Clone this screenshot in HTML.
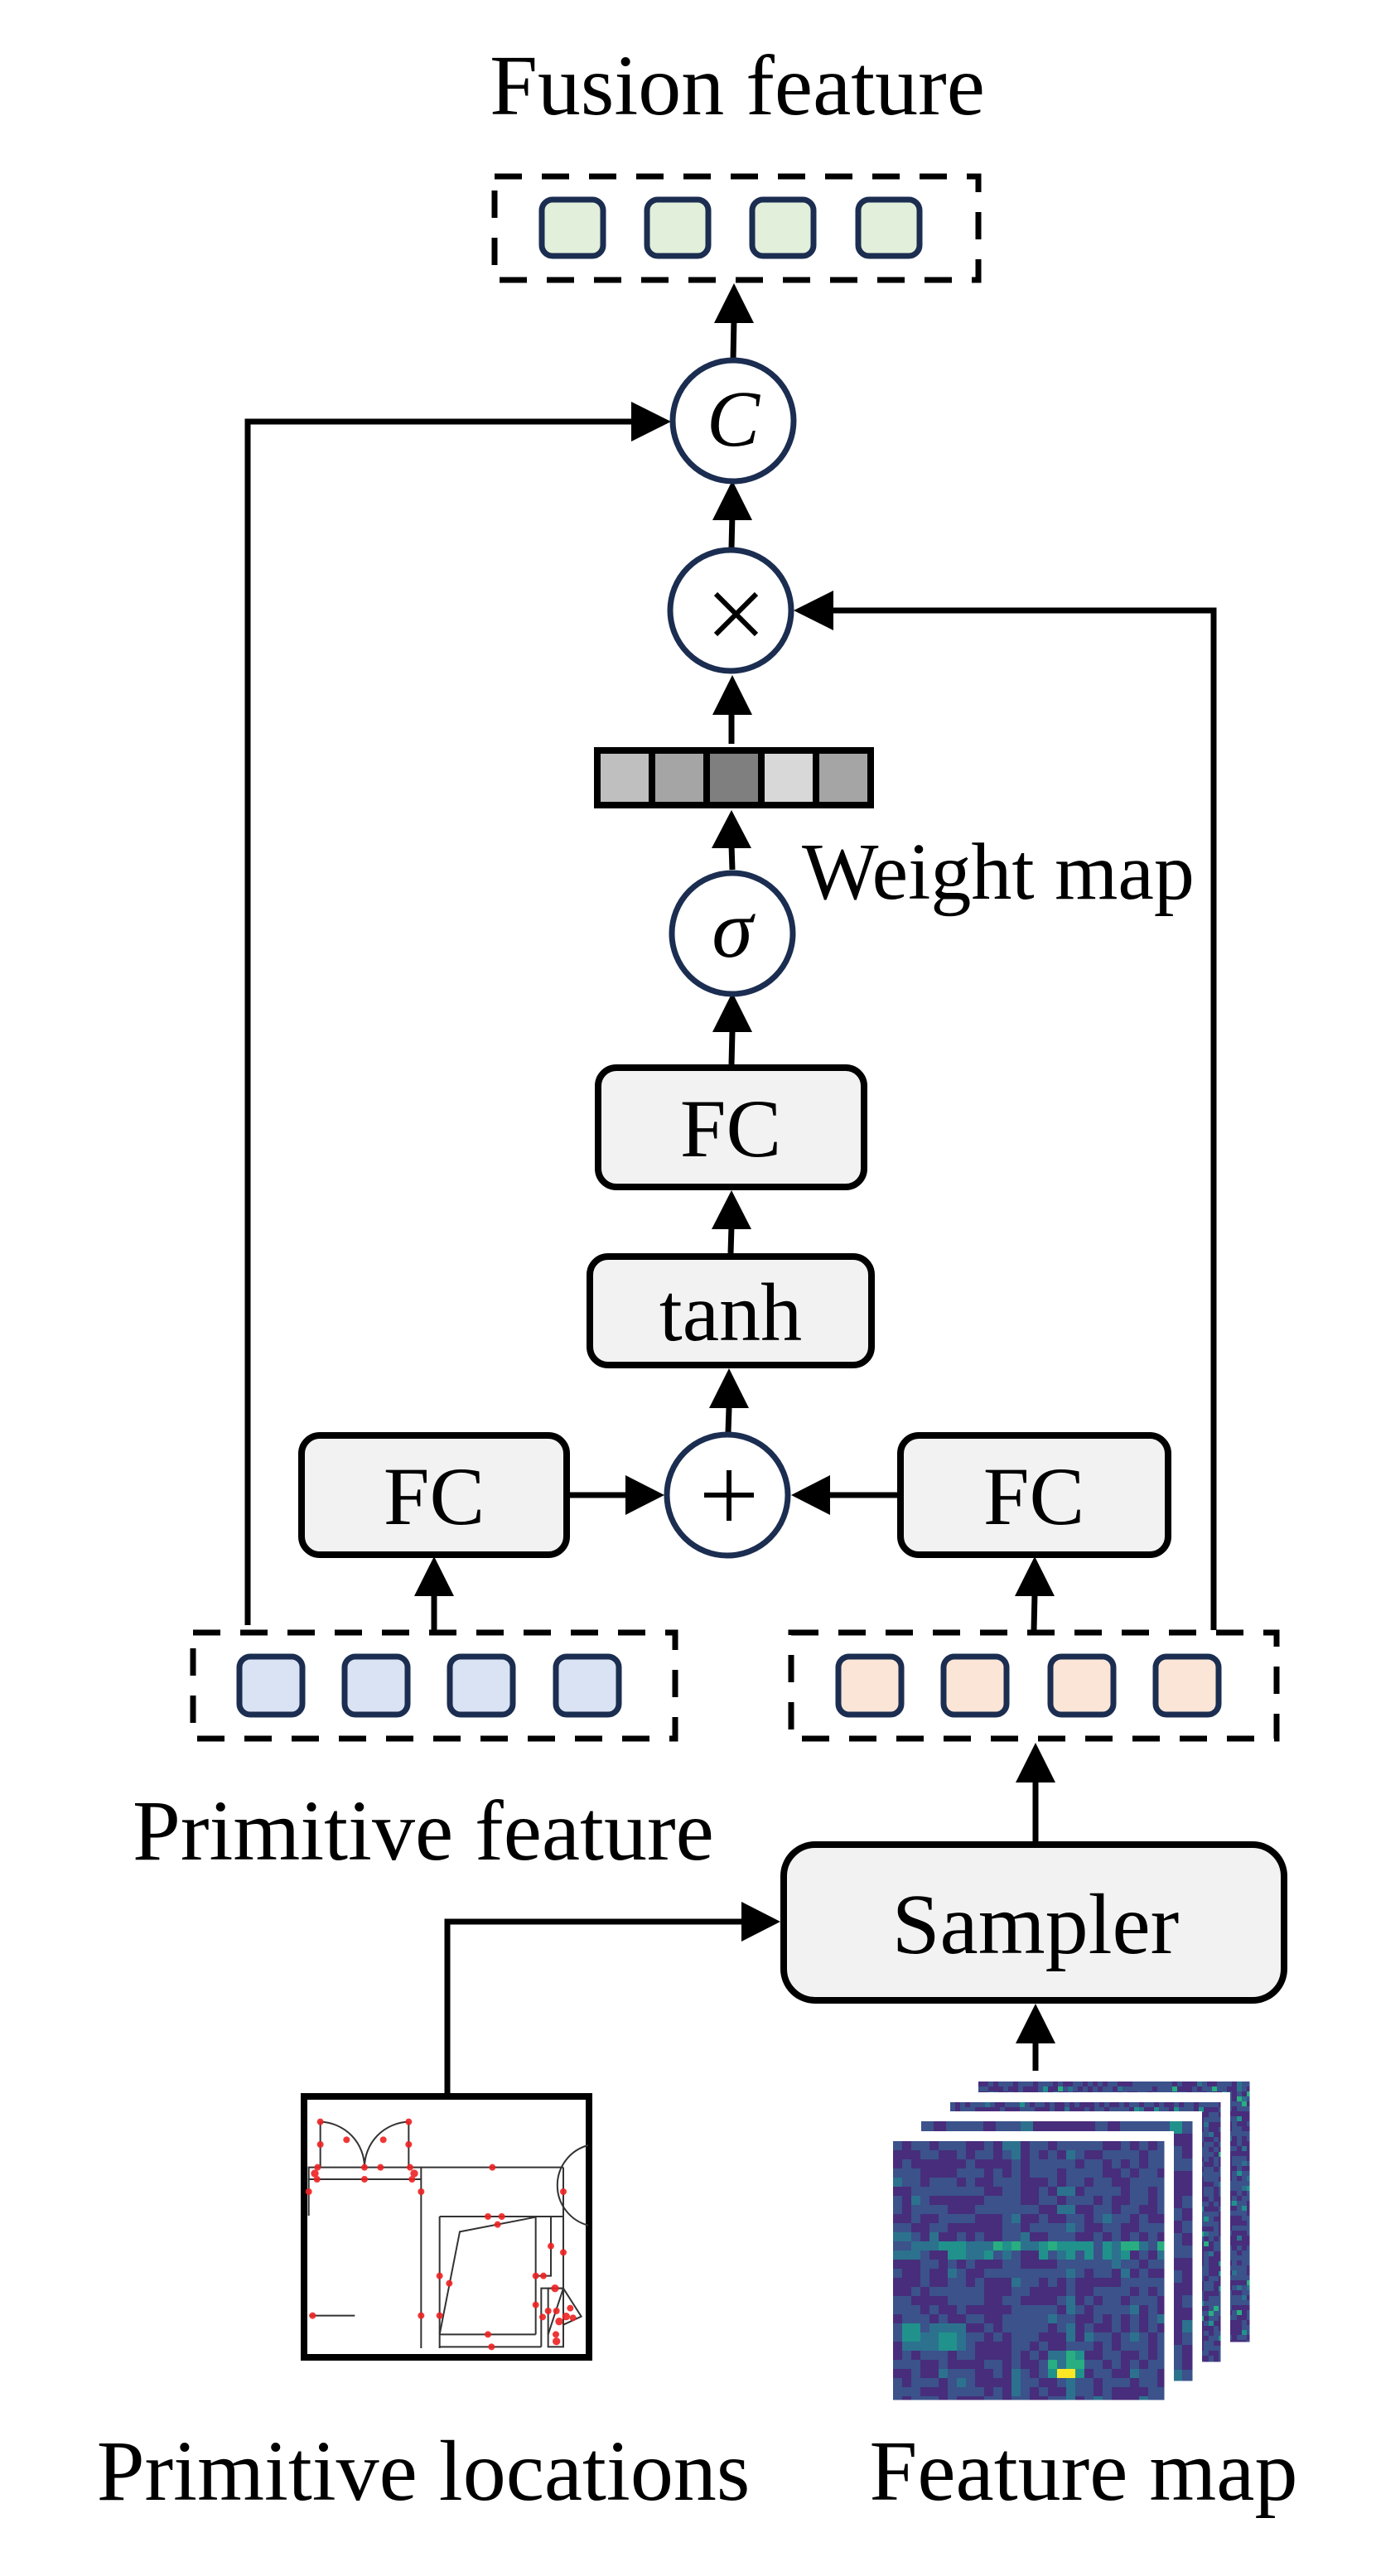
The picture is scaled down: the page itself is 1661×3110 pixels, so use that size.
<!DOCTYPE html>
<html><head><meta charset="utf-8"><style>
html,body{margin:0;padding:0;background:#fff;}
svg{display:block;}
text{font-family:"Liberation Serif",serif;fill:#000;}
</style></head><body>
<svg id="s" width="1661" height="3110" viewBox="0 0 1661 3110" xmlns="http://www.w3.org/2000/svg">
<rect width="1661" height="3110" fill="#fff"/>

<text x="890" y="138" font-size="104" text-anchor="middle">Fusion feature</text>
<text x="968" y="1085" font-size="98">Weight map</text>
<text x="160" y="2245" font-size="104">Primitive feature</text>
<text x="511" y="3018" font-size="104" text-anchor="middle">Primitive locations</text>
<text x="1308" y="3018" font-size="104" text-anchor="middle">Feature map</text>

<rect x="597" y="213" width="584" height="125" fill="none" stroke="#000" stroke-width="7" stroke-dasharray="33,24"/>
<g fill="#e2efda" stroke="#1b2d50" stroke-width="7">
<rect x="654" y="241" width="74" height="68" rx="13"/>
<rect x="781" y="241" width="74" height="68" rx="13"/>
<rect x="908" y="241" width="74" height="68" rx="13"/>
<rect x="1036" y="241" width="74" height="68" rx="13"/>
</g>

<g stroke="#000" stroke-width="7" fill="none">
<line x1="885" y1="434" x2="886" y2="385"/>
<polyline points="299,1962 299,509 770,509"/>
<line x1="883" y1="662" x2="884" y2="620"/>
<polyline points="1465,1968 1465,737 1002,737"/>
<line x1="883" y1="898" x2="883" y2="860"/>
<line x1="884" y1="1050" x2="883" y2="1020"/>
<line x1="883" y1="1285" x2="884" y2="1245"/>
<line x1="882" y1="1513" x2="883" y2="1480"/>
<line x1="879" y1="1729" x2="880" y2="1700"/>
<line x1="686" y1="1805" x2="760" y2="1805"/>
<line x1="1083" y1="1805" x2="1000" y2="1805"/>
<line x1="524" y1="1968" x2="524" y2="1925"/>
<line x1="1248" y1="1968" x2="1249" y2="1925"/>
<line x1="1250" y1="2223" x2="1250" y2="2150"/>
<line x1="1250" y1="2500" x2="1250" y2="2465"/>
<polyline points="540,2528 540,2320 900,2320"/>
</g>
<g fill="#000">
<polygon points="886,342 862,390 910,390"/>
<polygon points="810,509 762,485 762,533"/>
<polygon points="884,580 860,628 908,628"/>
<polygon points="958,737 1006,713 1006,761"/>
<polygon points="884,815 860,863 908,863"/>
<polygon points="883,978 859,1024 907,1024"/>
<polygon points="884,1198 860,1246 908,1246"/>
<polygon points="883,1437 859,1484 907,1484"/>
<polygon points="880,1652 856,1700 904,1700"/>
<polygon points="802,1805 755,1781 755,1829"/>
<polygon points="955,1805 1002,1781 1002,1829"/>
<polygon points="524,1879 500,1927 548,1927"/>
<polygon points="1249,1879 1225,1927 1273,1927"/>
<polygon points="1250,2104 1226,2152 1274,2152"/>
<polygon points="1250,2419 1226,2467 1274,2467"/>
<polygon points="942,2320 895,2296 895,2344"/>
</g>

<g fill="#fff" stroke="#1b2d50" stroke-width="7">
<circle cx="885" cy="508" r="73"/>
<circle cx="882" cy="737" r="73"/>
<circle cx="884" cy="1127" r="73"/>
<circle cx="878" cy="1805" r="73"/>
</g>
<text x="885" y="538" font-size="96" font-style="italic" text-anchor="middle">C</text>
<g stroke="#000" stroke-width="6"><line x1="864" y1="717" x2="913" y2="766"/><line x1="913" y1="717" x2="864" y2="766"/>
<line x1="850" y1="1805" x2="910" y2="1805"/><line x1="880" y1="1775" x2="880" y2="1836"/></g>
<text x="884" y="1155" font-size="100" font-style="italic" text-anchor="middle">σ</text>

<rect x="717" y="902" width="338" height="74" fill="#000"/>
<rect x="725" y="910" width="58" height="58" fill="#bfbfbf"/>
<rect x="791" y="910" width="58" height="58" fill="#a5a5a5"/>
<rect x="857" y="910" width="58" height="58" fill="#7f7f7f"/>
<rect x="923" y="910" width="58" height="58" fill="#d8d8d8"/>
<rect x="989" y="910" width="58" height="58" fill="#a5a5a5"/>

<g fill="#f2f2f2" stroke="#000" stroke-width="8">
<rect x="722" y="1289" width="321" height="144" rx="22"/>
<rect x="712" y="1517" width="340" height="131" rx="22"/>
<rect x="364" y="1733" width="320" height="144" rx="22"/>
<rect x="1087" y="1733" width="323" height="144" rx="22"/>
<rect x="946" y="2227" width="604" height="188" rx="38"/>
</g>
<text x="882" y="1396" font-size="100" text-anchor="middle">FC</text>
<text x="882" y="1618" font-size="100" text-anchor="middle">tanh</text>
<text x="524" y="1840" font-size="100" text-anchor="middle">FC</text>
<text x="1248" y="1840" font-size="100" text-anchor="middle">FC</text>
<text x="1250" y="2358" font-size="104" text-anchor="middle">Sampler</text>

<g fill="none" stroke="#000" stroke-width="7" stroke-dasharray="33,24">
<rect x="233" y="1971" width="582" height="128" />
<rect x="955" y="1971" width="586" height="128" />
</g>
<g fill="#dae3f3" stroke="#1b2d50" stroke-width="7">
<rect x="289" y="2000" width="76" height="70" rx="13"/>
<rect x="416" y="2000" width="76" height="70" rx="13"/>
<rect x="543" y="2000" width="76" height="70" rx="13"/>
<rect x="671" y="2000" width="76" height="70" rx="13"/>
</g>
<g fill="#fbe5d6" stroke="#1b2d50" stroke-width="7">
<rect x="1012" y="2000" width="76" height="70" rx="13"/>
<rect x="1139" y="2000" width="76" height="70" rx="13"/>
<rect x="1268" y="2000" width="76" height="70" rx="13"/>
<rect x="1395" y="2000" width="76" height="70" rx="13"/>
</g>

<rect x="367" y="2531" width="344" height="315" fill="#fff" stroke="#000" stroke-width="8"/>
<g transform="translate(360,2520) scale(0.33333)">
<g fill="none" stroke="#333" stroke-width="6">
<line x1="80" y1="125" x2="80" y2="290"/><line x1="400" y1="125" x2="400" y2="290"/>
<path d="M80,125 A165,165 0 0 1 240,290"/><path d="M400,125 A165,165 0 0 0 240,290"/>
<line x1="35" y1="290" x2="960" y2="290"/><line x1="35" y1="333" x2="445" y2="333"/>
<line x1="38" y1="290" x2="38" y2="465"/>
<line x1="445" y1="290" x2="445" y2="945"/>
<line x1="960" y1="290" x2="960" y2="940"/>
<line x1="512" y1="468" x2="960" y2="468"/>
<line x1="512" y1="468" x2="512" y2="945"/>
<line x1="512" y1="895" x2="860" y2="895"/>
<line x1="860" y1="468" x2="860" y2="895"/>
<polyline points="512,895 585,523 860,470"/>
<polyline points="915,468 915,683 860,683"/>
<line x1="512" y1="940" x2="880" y2="940"/>
<polyline points="880,940 880,728 960,728"/>
<rect x="905" y="728" width="55" height="212"/>
<polyline points="905,895 960,728 1025,830 960,860"/>
<path d="M1050,210 A150,150 0 0 0 1050,500"/>
<line x1="40" y1="827" x2="205" y2="827"/>
</g>
<g fill="#ee2222" opacity="0.9">
<circle cx="80" cy="125" r="12"/><circle cx="400" cy="125" r="12"/><circle cx="80" cy="207" r="12"/><circle cx="400" cy="207" r="12"/>
<circle cx="175" cy="190" r="12"/><circle cx="308" cy="190" r="12"/><circle cx="70" cy="290" r="12"/><circle cx="240" cy="290" r="12"/>
<circle cx="298" cy="290" r="12"/><circle cx="405" cy="290" r="12"/><circle cx="60" cy="312" r="14"/><circle cx="420" cy="312" r="14"/>
<circle cx="68" cy="333" r="12"/><circle cx="240" cy="333" r="12"/><circle cx="412" cy="333" r="12"/><circle cx="38" cy="378" r="12"/>
<circle cx="445" cy="378" r="12"/><circle cx="703" cy="290" r="12"/><circle cx="960" cy="378" r="12"/><circle cx="687" cy="468" r="12"/>
<circle cx="737" cy="468" r="12"/><circle cx="722" cy="497" r="12"/><circle cx="915" cy="575" r="12"/><circle cx="960" cy="598" r="12"/>
<circle cx="512" cy="683" r="12"/><circle cx="547" cy="710" r="12"/><circle cx="860" cy="683" r="12"/><circle cx="888" cy="683" r="12"/>
<circle cx="930" cy="728" r="14"/><circle cx="860" cy="788" r="12"/><circle cx="905" cy="810" r="12"/><circle cx="935" cy="810" r="12"/>
<circle cx="885" cy="832" r="12"/><circle cx="945" cy="848" r="14"/><circle cx="970" cy="830" r="14"/><circle cx="985" cy="800" r="12"/>
<circle cx="995" cy="835" r="12"/><circle cx="52" cy="827" r="12"/><circle cx="445" cy="827" r="12"/><circle cx="512" cy="827" r="12"/>
<circle cx="687" cy="895" r="12"/><circle cx="700" cy="940" r="12"/><circle cx="933" cy="895" r="12"/><circle cx="935" cy="920" r="14"/>
</g>
</g>

<g id="fm"></g>
</svg>
<script>
(function(){
var ns="http://www.w3.org/2000/svg",g=document.getElementById("fm");
var seed=7;function rnd(){seed=(seed*16807)%2147483647;return seed/2147483647;}
var pal=["#440154","#472d7b","#3b528b","#2c728e","#21918c","#28ae80","#5ec962","#addc30","#fde725"];
function col(v){v=Math.max(0,Math.min(0.999,v));return pal[Math.floor(v*pal.length)];}
var layers=[[1181,2513,1508,2827],[1147,2538,1473,2851],[1112,2561,1439,2874],[1078,2585,1405,2897]];
layers.forEach(function(L,li){
 var w=L[2]-L[0],h=L[3]-L[1];
 var bg=document.createElementNS(ns,"rect");
 bg.setAttribute("x",L[0]-12);bg.setAttribute("y",L[1]-12);bg.setAttribute("width",w+24);bg.setAttribute("height",h+24);bg.setAttribute("fill","#fff");g.appendChild(bg);
 var cs=li==3?11:(li==2?15:6);
 var nx=Math.ceil(w/cs),ny=Math.ceil(h/cs);
 for(var j=0;j<ny;j++)for(var i=0;i<nx;i++){
  var v=0.12+rnd()*0.22;
  if(li==3){ if(j==11||j==12&&rnd()<0.5) v+=0.2*rnd()+0.1; if(i==13||i==19) v+=0.1;
   if(j>=20&&j<=22&&i>=1&&i<=7) v+=0.2; if(j>=23&&j<=25&&i>=17&&i<=20) v+=0.25; if(j==25&&(i==18||i==19)) v=0.95;}
  else if(rnd()<0.05) v+=0.3;
  var r=document.createElementNS(ns,"rect");
  r.setAttribute("x",L[0]+i*cs);r.setAttribute("y",L[1]+j*cs);
  r.setAttribute("width",Math.min(cs,w-i*cs)+0.5);r.setAttribute("height",Math.min(cs,h-j*cs)+0.5);
  r.setAttribute("fill",col(v));g.appendChild(r);
 }
});
})();
</script>
</body></html>
